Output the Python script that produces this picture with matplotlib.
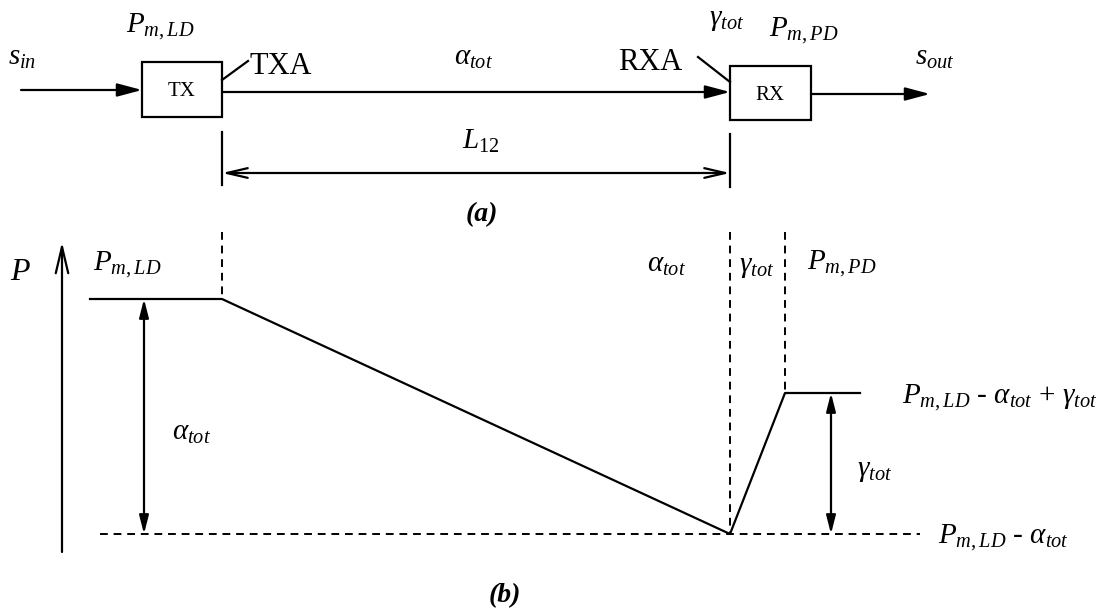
import matplotlib
matplotlib.use('Agg')
from matplotlib import pyplot as plt

plt.rcParams['font.family'] = ['Liberation Serif', 'DejaVu Serif']
plt.rcParams['mathtext.fontset'] = 'custom'
plt.rcParams['mathtext.rm'] = 'Liberation Serif'
plt.rcParams['mathtext.it'] = 'Liberation Serif:italic'
plt.rcParams['mathtext.bf'] = 'Liberation Serif:bold'

W, H = 1109, 612

# link geometry (horizontal positions, px)
x_tx_out = 222      # TX output / start of fibre
x_rx_in = 730       # RX input / end of fibre
x_rx_out = 785      # after receiver gain
x_left, x_right = 90, 860

# power levels (dB, relative to P_m,LD)
p_ld = 0.0
alpha_tot = 20.0
gamma_tot = 12.0
p_min = p_ld - alpha_tot
p_pd = p_min + gamma_tot

# power profile along the link
prof_x = [x_left, x_tx_out, x_rx_in, x_rx_out, x_right]
prof_p = [p_ld, p_ld, p_min, p_pd, p_pd]

fig = plt.figure(figsize=(W / 100, H / 100), dpi=100)

# (a) block diagram, drawn in pixel units
ax = fig.add_axes([0, 0, 1, 1])
ax.set_xlim(0, W)
ax.set_ylim(H, 0)
ax.axis('off')

# (b) power diagram: y in dB, 11.75 px per dB, P_m,LD at px 299
px_per_db = 11.75
y0 = 299
bx = fig.add_axes([0, 0, 1, 1])
bx.set_xlim(0, W)
bx.set_ylim((y0 - H) / px_per_db, y0 / px_per_db)
bx.axis('off')
bx.patch.set_alpha(0)

lw = 1.6
k = 'black'
arrow_f = dict(arrowstyle='-|>,head_length=1.5,head_width=0.4', color=k, lw=lw,
               shrinkA=0, shrinkB=0)
arrow_d = dict(arrowstyle='<|-|>,head_length=1.1,head_width=0.28', color=k, lw=lw,
               shrinkA=0, shrinkB=0)
arrow_o = dict(arrowstyle='<->,head_length=1.5,head_width=0.35', color=k, lw=lw,
               shrinkA=0, shrinkB=0)

fs = 21

# ---- (a) ----
tx_box = plt.Rectangle((142, 62), x_tx_out - 142, 55, fill=False, lw=lw, ec=k)
rx_box = plt.Rectangle((x_rx_in, 66), 81, 54, fill=False, lw=lw, ec=k)
ax.add_patch(tx_box)
ax.add_patch(rx_box)
ax.text(182, 91, 'TX', fontsize=15, ha='center', va='center')
ax.text(x_rx_in + 40, 95, 'RX', fontsize=15, ha='center', va='center')

ax.annotate('', xy=(142, 90), xytext=(21, 90), arrowprops=arrow_f)
ax.annotate('', xy=(x_rx_in, 92), xytext=(x_tx_out, 92), arrowprops=arrow_f)
ax.annotate('', xy=(930, 94), xytext=(x_rx_in + 81, 94), arrowprops=arrow_f)

# antenna leads
ax.plot([x_tx_out, 248], [80, 61], color=k, lw=lw)
ax.plot([698, x_rx_in], [57, 82], color=k, lw=lw)
ax.text(250, 66, 'TXA', fontsize=22, ha='left', va='center')
ax.text(682, 62, 'RXA', fontsize=22, ha='right', va='center')

ax.text(22, 58, '$s_{in}$', fontsize=fs, ha='center', va='center')
ax.text(160, 27, '$P_{m,LD}$', fontsize=fs, ha='center', va='center')
ax.text(474, 58, r'$\alpha_{tot}$', fontsize=fs, ha='center', va='center')
ax.text(727, 20, r'$\gamma_{tot}$', fontsize=fs, ha='center', va='center')
ax.text(804, 31, '$P_{m,PD}$', fontsize=fs, ha='center', va='center')
ax.text(935, 58, '$s_{out}$', fontsize=fs, ha='center', va='center')

# span L12
ax.plot([x_tx_out, x_tx_out], [132, 185], color=k, lw=lw)
ax.plot([x_rx_in, x_rx_in], [134, 187], color=k, lw=lw)
ax.annotate('', xy=(x_tx_out, 173), xytext=(x_rx_in, 173), arrowprops=arrow_o)
ax.text(481, 141, '$L_{12}$', fontsize=fs, ha='center', va='center')
ax.text(482, 215, '(a)', fontsize=20, ha='center', va='center',
        fontweight='bold', fontstyle='italic')

# ---- (b) ----
p_top = (y0 - 232) / px_per_db
bx.annotate('', xy=(62, (y0 - 242) / px_per_db), xytext=(62, (y0 - 552) / px_per_db),
            arrowprops=dict(arrowstyle='->,head_length=1.9,head_width=0.45',
                            color=k, lw=lw, shrinkA=0, shrinkB=0))
bx.text(20, (y0 - 273) / px_per_db, '$P$', fontsize=23, ha='center', va='center')

bx.plot(prof_x, prof_p, color=k, lw=lw)

dash = dict(color=k, lw=1.4, ls=(0, (4, 3)))
bx.plot([x_tx_out, x_tx_out], [p_top, p_ld], **dash)
bx.plot([x_rx_in, x_rx_in], [p_top, p_min], **dash)
bx.plot([x_rx_out, x_rx_out], [p_top, p_pd], **dash)
bx.plot([100, 920], [p_min, p_min], **dash)

bx.annotate('', xy=(144, p_ld), xytext=(144, p_min), arrowprops=arrow_d)
bx.annotate('', xy=(831, p_pd), xytext=(831, p_min), arrowprops=arrow_d)

lab_y = (y0 - 265) / px_per_db
bx.text(127, lab_y, '$P_{m,LD}$', fontsize=fs, ha='center', va='center')
bx.text(667, lab_y, r'$\alpha_{tot}$', fontsize=fs, ha='center', va='center')
bx.text(757, lab_y - 0.15, r'$\gamma_{tot}$', fontsize=fs, ha='center', va='center')
bx.text(842, lab_y + 0.15, '$P_{m,PD}$', fontsize=fs, ha='center', va='center')

bx.text(192, (p_ld + p_min) / 2 - 1.4, r'$\alpha_{tot}$', fontsize=fs,
        ha='center', va='center')
bx.text(875, (p_pd + p_min) / 2 - 0.6, r'$\gamma_{tot}$', fontsize=fs,
        ha='center', va='center')

bx.text(902, p_pd - 0.4, r'$P_{m,LD}$ - $\alpha_{tot}$ $+$ $\gamma_{tot}$', fontsize=fs,
        ha='left', va='center')
bx.text(938, p_min - 0.35, r'$P_{m,LD}$ - $\alpha_{tot}$', fontsize=fs,
        ha='left', va='center')

bx.text(505, (y0 - 596) / px_per_db, '(b)', fontsize=20, ha='center', va='center',
        fontweight='bold', fontstyle='italic')

fig.savefig('out.png', dpi=100)
